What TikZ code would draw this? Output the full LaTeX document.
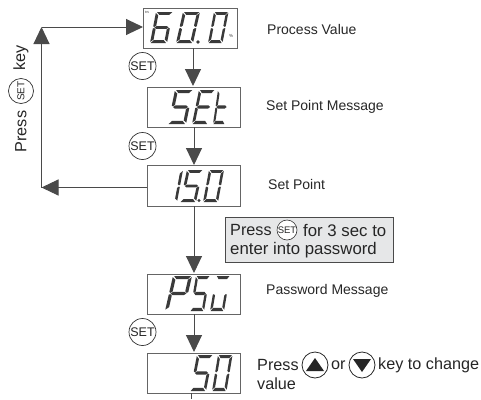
\documentclass[tikz,border=0pt]{standalone}
\usepackage{fontspec}
\setmainfont{Liberation Sans}
\usetikzlibrary{arrows.meta}
\definecolor{ink}{HTML}{4A4A4A}
\definecolor{seg}{HTML}{3A3A3A}
\definecolor{panel}{HTML}{E6E7E8}
\tikzset{
  dispbox/.style={draw=ink!85,line width=1pt,fill=white,inner sep=0pt,anchor=north west},
  flow/.style={draw=ink,line width=1pt,-{Triangle[length=17pt,width=16pt,color=ink]}},
  plainline/.style={draw=ink,line width=1pt},
  lbl/.style={anchor=west,inner sep=0pt,font=\fontsize{14}{16}\selectfont,text=black!85},
  biglbl/.style={anchor=west,inner sep=0pt,font=\fontsize{16.2}{18}\selectfont,text=black!85},
  setkey/.style={circle,draw=black!80,line width=.7pt,fill=white,minimum size=27pt,inner sep=0pt,font=\fontsize{12.5}{14}\selectfont,text=black!85},
  setsmall/.style={circle,draw=black!80,line width=.6pt,fill=white,minimum size=20pt,inner sep=0pt,font=\fontsize{9.5}{10}\selectfont,text=black!85},
  arrowkey/.style={circle,draw=black!85,line width=.8pt,fill=white,minimum size=26pt,inner sep=0pt},
  segfill/.style={fill=seg},
}
\def\sega{\fill[segfill] (.06,1)--(.96,1)--(.82,.91)--(.22,.91)--cycle;}
\def\segb{\fill[segfill] (1,.97)--(1,.54)--(.92,.52)--(.83,.56)--(.83,.89)--cycle;}
\def\segc{\fill[segfill] (1,.47)--(1,.04)--(.83,.11)--(.83,.44)--(.92,.48)--cycle;}
\def\segd{\fill[segfill] (.04,0)--(.94,0)--(.78,.09)--(.18,.09)--cycle;}
\def\sege{\fill[segfill] (0,.47)--(0,.04)--(.17,.11)--(.17,.44)--(.08,.48)--cycle;}
\def\segf{\fill[segfill] (0,.97)--(0,.54)--(.08,.52)--(.17,.56)--(.17,.89)--cycle;}
\def\segg{\fill[segfill] (.08,.50)--(.20,.545)--(.80,.545)--(.92,.50)--(.80,.455)--(.20,.455)--cycle;}
% x, bottom y, width, height, slant, segments
\newcommand{\sevenseg}[6]{%
  \begin{scope}[shift={(#1,#2)},x={(#3pt,0pt)},y={(#5pt,#4pt)}]
    \foreach \g in {#6}{\csname seg\g\endcsname}
  \end{scope}}
\begin{document}
\begin{tikzpicture}[x=1pt,y=-1pt]
\useasboundingbox (0,0) rectangle (481,399);
% display boxes
\node[dispbox,minimum width=94pt,minimum height=40pt] (pv) at (143,8) {};
\node[dispbox,minimum width=93pt,minimum height=40pt] (msg) at (147,87) {};
\node[dispbox,minimum width=93pt,minimum height=41pt] (sp) at (147,165) {};
\node[dispbox,minimum width=93pt,minimum height=40pt] (pw) at (147,274) {};
\node[dispbox,minimum width=93pt,minimum height=40pt] (val) at (147,353) {};
% digits
\sevenseg{150}{43}{17}{31}{6}{a,c,d,e,f,g}
\sevenseg{176}{43}{17}{31}{7}{a,b,c,d,e,f}
\sevenseg{208}{43}{14.5}{31}{6}{a,b,c,d,e,f}
\fill[segfill] (198,42) circle (1.8);
\node[inner sep=0pt,font=\fontsize{3}{3}\selectfont,text=seg] (rs) at (147,12) {RS};
\node[inner sep=0pt,font=\fontsize{4.5}{5}\selectfont,text=seg] (pct) at (231,35.5) {\%};
\sevenseg{168}{124}{18}{34}{7}{a,c,d,f,g}
\sevenseg{192}{124}{16}{34}{7}{a,d,e,f,g}
\sevenseg{213}{124}{12}{34}{5}{d,e,f,g}
\sevenseg{162}{202}{15}{32}{6}{b,c}
\sevenseg{180}{202}{16}{32}{7}{a,c,d,f,g}
\sevenseg{203}{202}{15}{32}{6}{a,b,c,d,e,f}
\fill[segfill] (199,200.5) circle (1.7);
\sevenseg{165}{311}{19}{35}{8}{a,b,e,f,g}
\sevenseg{190}{311}{14}{35}{6}{a,c,d,f,g}
\sevenseg{210}{311}{14}{35}{6}{a,c,d,e}
\sevenseg{190}{391}{16}{36}{7}{a,c,d,f,g}
\sevenseg{212}{391}{14.5}{36}{6}{a,b,c,d,e,f}
% connectors
\coordinate (pvS) at (193,48);
\coordinate (msgN) at (193,86);
\coordinate (msgS) at (194,127);
\coordinate (spN) at (194,165);
\coordinate (spS) at (194,206);
\coordinate (pwN) at (194,273);
\coordinate (pwS) at (194,314);
\coordinate (valN) at (194,352);
\coordinate (valS) at (191,393);
\coordinate (tail) at (191,399);
\coordinate (spW) at (147,187.5);
\coordinate (cornerB) at (41.5,187.5);
\coordinate (cornerT) at (41.5,27);
\coordinate (pvW) at (143,27);
\draw[flow] (pvS) -- (msgN);
\draw[flow] (msgS) -- (spN);
\draw[flow] (spS) -- (pwN);
\draw[flow] (pwS) -- (valN);
\draw[plainline] (valS) -- (tail);
\draw[flow] (spW) -- (cornerB);
\draw[flow] (cornerB) -- (cornerT);
\draw[flow] (cornerT) -- (pvW);
% set keys
\node[setkey] (k1) at (142.5,66) {SET};
\node[setkey] (k2) at (142.5,146) {SET};
\node[setkey] (k3) at (142.5,332) {SET};
% labels
\node[lbl] (t1) at (267,29) {Process Value};
\node[lbl] (t2) at (266,107) {Set Point Message};
\node[lbl] (t3) at (268,184) {Set Point};
\node[lbl] (t4) at (266,291) {Password Message};
% rotated label
\node[biglbl,anchor=center,rotate=90] (r1) at (21,131.5) {Press};
\node[setkey,rotate=90,minimum size=25pt,font=\fontsize{10}{11}\selectfont] (rk) at (21,91) {SET};
\node[biglbl,anchor=center,rotate=90] (r2) at (21,57.5) {key};
% grey panel
\node[draw=ink,line width=1pt,fill=panel,anchor=north west,inner sep=0pt,minimum width=168pt,minimum height=45pt] (note) at (225,217) {};
\node[biglbl] (n1) at (230,230) {Press};
\node[setsmall] (nk) at (287,230) {SET};
\node[biglbl,font=\fontsize{16.8}{18}\selectfont] (n2) at (303,230) {for 3 sec to};
\node[biglbl,font=\fontsize{16.8}{18}\selectfont] (n3) at (230,250) {enter into password};
% change value
\node[biglbl] (c1) at (257,365) {Press};
\node[arrowkey] (up) at (315,365) {};
\fill[black!85] (306,371)--(324,371)--(315,358)--cycle;
\node[biglbl] (c2) at (331,365) {or};
\node[arrowkey] (down) at (362,365) {};
\fill[black!85] (353,359)--(371,359)--(362,372)--cycle;
\node[biglbl] (c3) at (378,365) {key to change};
\node[biglbl] (c4) at (257,384) {value};
\end{tikzpicture}
\end{document}
